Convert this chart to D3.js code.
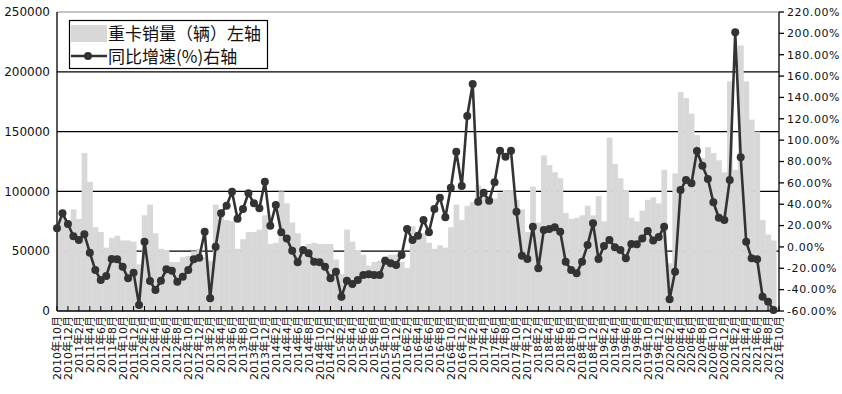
<!DOCTYPE html>
<html>
<head>
<meta charset="utf-8">
<script src="https://cdn.jsdelivr.net/npm/d3@7"></script>
<style>
  body { margin: 0; background: #fff; }
  svg text { font-family: "DejaVu Sans", "Noto Sans CJK SC", sans-serif; }
</style>
</head>
<body>
<svg id="chart" width="842" height="394"></svg>
<script>
// months 2010-10 .. 2021-10
const startYear = 2010, startMonth = 10, monthCount = 133;
const months = [];
for (let k = 0; k < monthCount; k++) {
  const m = startMonth - 1 + k;
  months.push(`${startYear + Math.floor(m / 12)}年${(m % 12) + 1}月`);
}

// 重卡销量（辆）
const sales = [
  72000, 82000, 75000,
  85000, 77000, 132000, 108000, 70000, 66000, 53000, 61000, 63000, 59000, 59000, 58000,
  39000, 80000, 89000, 65000, 52000, 51000, 41000, 41000, 45000, 46000, 50000, 52000,
  45000, 42000, 89000, 82000, 76000, 75000, 52000, 60000, 66000, 66000, 68000, 80000,
  56000, 57000, 100000, 90000, 74000, 65000, 50000, 56000, 57000, 56000, 56000, 56000,
  43000, 31000, 68000, 58000, 51000, 47000, 38000, 41000, 42000, 46000, 47000, 47000,
  41000, 36000, 71000, 66000, 65000, 57000, 52000, 55000, 53000, 70000, 89000, 76000,
  88000, 91000, 105000, 102000, 96000, 94000, 99000, 101000, 101000, 93000, 85000, 66000,
  104000, 74000, 130000, 122000, 116000, 111000, 82000, 77000, 78000, 80000, 88000, 80000,
  96000, 75000, 145000, 123000, 111000, 101000, 78000, 75000, 84000, 93000, 95000, 90000,
  118000, 40000, 115000, 183000, 178000, 165000, 147000, 128000, 137000, 132000, 126000, 116000,
  192000, 118000, 222000, 192000, 160000, 150000, 76000, 64000, 59000, null
];

// 同比增速（%）
const growth = [
  17.4, 31.5, 21.5,
  10, 6.5, 11.8, -5.4, -21.6, -31, -27.2, -11.3, -11.6, -18.5, -29.4, -24.1,
  -54.4, 4.9, -31.9, -40.3, -31.6, -21, -22.3, -32.6, -27.9, -21.6, -11.6, -10.1,
  14.3, -48.1, 0.2, 31.5, 38.6, 51.7, 26.5, 35.5, 50.2, 40.8, 36.2, 61.1,
  19.9, 39.3, 13.7, 8, -3.5, -14.4, -2.9, -6, -13.8, -14.4, -18.5, -29.4,
  -23.2, -46.6, -31.6, -34.7, -31, -26.3, -25.6, -26.3, -26.3, -12.9, -15.3, -16.9,
  -7.6, 16.8, 6.5, 10.5, 25.2, 13.7, 35.5, 46.1, 27.7, 55.5, 89.2, 57,
  122.6, 152.5, 42.3, 50.8, 43.3, 60.5, 90.1, 84.5, 90.1, 33, -8.2, -11.3,
  19, -20, 15.8, 16.8, 18.4, 14.3, -13.8, -21.6, -24.7, -13.8, 1.8, 22.1,
  -11.3, 0.9, 6.5, -0.3, -2.9, -10.7, 2.7, 2.5, 8, 15, 6, 9.3,
  19, -49, -23.2, 53.3, 62.7, 59.6, 89.8, 76, 63.6, 41.8, 27.4, 25.2,
  62.7, 201, 83.9, 4.9, -10.7, -11.6, -46.6, -51.3, -59, null
];

const leftTicks = [0, 50000, 100000, 150000, 200000, 250000];
const rightTicks = [-60, -40, -20, 0, 20, 40, 60, 80, 100, 120, 140, 160, 180, 200, 220];
const legendLabels = ["重卡销量（辆）左轴", "同比增速(%)右轴"];

const plotL = 57, plotR = 779, plotT = 12, plotB = 311;
const svg = d3.select("#chart");

const x = d3.scalePoint().domain(months).range([plotL, plotR]).padding(0);
const yL = d3.scaleLinear().domain([0, 250000]).range([plotB, plotT]);
const yR = d3.scaleLinear().domain([-60, 220]).range([plotB, plotT]);
const bw = x.step();

svg.append("clipPath").attr("id", "plot")
  .append("rect").attr("x", plotL).attr("y", plotT)
  .attr("width", plotR - plotL).attr("height", plotB - plotT);

// grid lines (behind bars)
svg.append("g").selectAll("line")
  .data(leftTicks.filter(d => d > 0 && d < 250000))
  .enter().append("line")
  .attr("x1", plotL).attr("x2", plotR)
  .attr("y1", d => yL(d)).attr("y2", d => yL(d))
  .attr("stroke", "#000").attr("stroke-width", 1.3);
svg.append("line")
  .attr("x1", plotL).attr("x2", plotR)
  .attr("y1", yL(250000)).attr("y2", yL(250000))
  .attr("stroke", "#888").attr("stroke-width", 1);

// bars
svg.append("g").attr("clip-path", "url(#plot)")
  .selectAll("rect")
  .data(months.map((m, i) => ({ m, v: sales[i] })).filter(d => d.v != null))
  .enter().append("rect")
  .attr("x", d => x(d.m) - bw / 2)
  .attr("width", bw + 0.3)
  .attr("y", d => yL(d.v))
  .attr("height", d => yL(0) - yL(d.v))
  .attr("fill", "#d8d8d8");

// axis lines
svg.append("line").attr("x1", plotL).attr("x2", plotL).attr("y1", plotT).attr("y2", plotB)
  .attr("stroke", "#000").attr("stroke-width", 1.3);
svg.append("line").attr("x1", plotR).attr("x2", plotR).attr("y1", plotT).attr("y2", plotB)
  .attr("stroke", "#000").attr("stroke-width", 1.3);
svg.append("line").attr("x1", plotL).attr("x2", plotR).attr("y1", plotB).attr("y2", plotB)
  .attr("stroke", "#000").attr("stroke-width", 1.3);

// bottom ticks & labels (every 2 months)
const shown = months.filter((d, i) => i % 2 === 0);
svg.append("g").selectAll("line").data(shown).enter().append("line")
  .attr("x1", d => x(d)).attr("x2", d => x(d))
  .attr("y1", plotB).attr("y2", plotB - 5)
  .attr("stroke", "#000").attr("stroke-width", 1);
svg.append("g").selectAll("text").data(shown).enter().append("text")
  .attr("transform", d => `translate(${x(d)},${plotB + 5}) rotate(-90)`)
  .attr("text-anchor", "end")
  .attr("dy", "0.36em")
  .attr("font-size", 11)
  .attr("fill", "#111")
  .text(d => d);

// left labels
svg.append("g").selectAll("text").data(leftTicks).enter().append("text")
  .attr("x", 50).attr("y", d => yL(d)).attr("dy", "0.35em")
  .attr("text-anchor", "end").attr("font-size", 12).attr("fill", "#111")
  .text(d => d);

// right ticks & labels
svg.append("g").selectAll("line").data(rightTicks).enter().append("line")
  .attr("x1", plotR).attr("x2", plotR + 5)
  .attr("y1", d => yR(d)).attr("y2", d => yR(d))
  .attr("stroke", "#000").attr("stroke-width", 1.3);
svg.append("g").selectAll("text").data(rightTicks).enter().append("text")
  .attr("x", 787).attr("y", d => yR(d)).attr("dy", "0.35em")
  .attr("font-size", 11).attr("fill", "#111")
  .attr("letter-spacing", 0.6)
  .text(d => d.toFixed(2) + "%");

// growth line
const pts = months.map((m, i) => ({ m, v: growth[i] })).filter(d => d.v != null);
const line = d3.line().x(d => x(d.m)).y(d => yR(d.v));
svg.append("path").datum(pts)
  .attr("d", line).attr("fill", "none")
  .attr("stroke", "#333").attr("stroke-width", 2.6);
svg.append("g").selectAll("circle").data(pts).enter().append("circle")
  .attr("cx", d => x(d.m)).attr("cy", d => yR(d.v)).attr("r", 4)
  .attr("fill", "#333");

// legend
const lg = svg.append("g");
lg.append("rect").attr("x", 69.5).attr("y", 20.5).attr("width", 198).attr("height", 48)
  .attr("fill", "#fff").attr("stroke", "#000").attr("stroke-width", 1.2);
lg.append("rect").attr("x", 71).attr("y", 25).attr("width", 36).attr("height", 17)
  .attr("fill", "#d8d8d8");
lg.append("line").attr("x1", 71).attr("x2", 107).attr("y1", 56).attr("y2", 56)
  .attr("stroke", "#333").attr("stroke-width", 2.6);
lg.append("circle").attr("cx", 88).attr("cy", 56).attr("r", 4).attr("fill", "#333");
lg.selectAll("text").data(legendLabels).enter().append("text")
  .attr("x", 108).attr("y", (d, i) => 40 + i * 23)
  .attr("font-size", 17).attr("fill", "#111")
  .style("font-family", "'Noto Sans CJK SC', sans-serif")
  .text(d => d);
</script>
</body>
</html>
